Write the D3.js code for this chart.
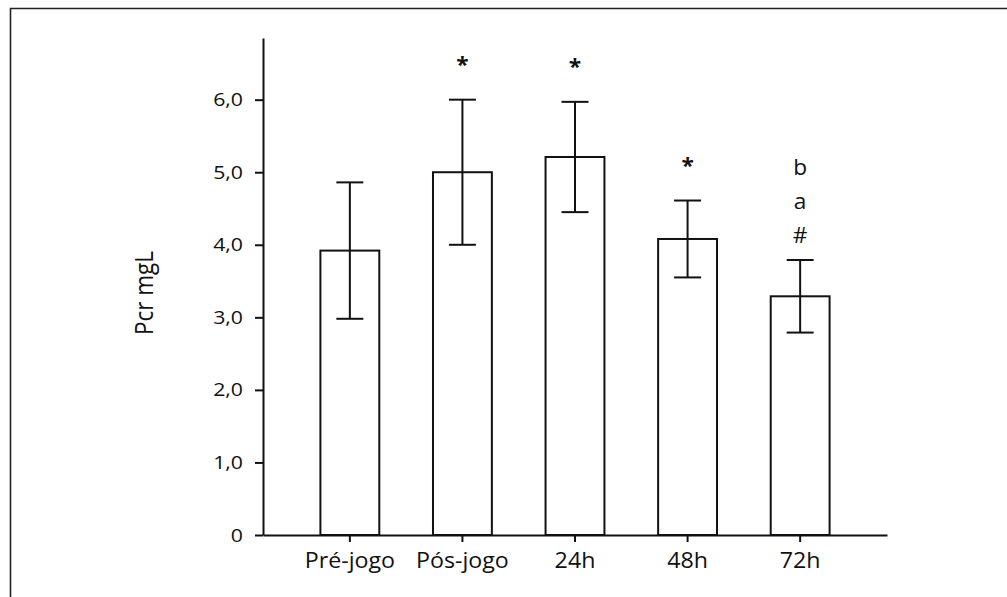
<!DOCTYPE html>
<html><head><meta charset="utf-8">
<script src="https://cdn.jsdelivr.net/npm/d3@7"></script>
<style>body{margin:0;background:#fff} svg{display:block}</style>
</head><body><svg id="c" width="1007" height="597"></svg>
<script>
// ---- data ----
const categories = ["Pré-jogo", "Pós-jogo", "24h", "48h", "72h"];
const means = [3.92, 5.00, 5.21, 4.08, 3.29];
const sds = [0.94, 1.00, 0.76, 0.53, 0.50];
const marks = [[], ["*"], ["*"], ["*"], ["#", "a", "b"]];
const yTicks = [0, 1, 2, 3, 4, 5, 6];
const yTickLabels = ["0", "1,0", "2,0", "3,0", "4,0", "5,0", "6,0"];
const yTitle = "Pcr mgL";
const yMax = 6.85;

// ---- layout ----
const W = 1007, H = 597;
const x0 = 263, x1 = 887, yB = 535, yT = 38;
const FONT = "'Open Sans', 'Liberation Sans', sans-serif";
const INK = "#111";

const svg = d3.select("#c");
svg.append("rect").attr("width", W).attr("height", H).attr("fill", "#fff");

// frame (left + top edges)
svg.append("path").attr("d", `M10.5,${H} V8.5 H${W}`)
  .attr("fill", "none").attr("stroke", "#222").attr("stroke-width", 1.6);

const x = d3.scaleBand().domain(categories).range([x0, x1])
  .paddingInner(0.477).paddingOuter(0.51);
const y = d3.scaleLinear().domain([0, yMax]).range([yB, yT]);

// bars
svg.append("g").selectAll("rect").data(categories).join("rect")
  .attr("x", d => x(d))
  .attr("y", (d, i) => y(means[i]))
  .attr("width", x.bandwidth())
  .attr("height", (d, i) => y(0) - y(means[i]))
  .attr("fill", "#fff").attr("stroke", INK).attr("stroke-width", 2);

// error bars
const capW = 27;
const eg = svg.append("g").attr("stroke", INK).attr("stroke-width", 2).attr("fill", "none");
categories.forEach((c, i) => {
  const cx = x(c) + x.bandwidth() / 2;
  const hi = y(means[i] + sds[i]), lo = y(means[i] - sds[i]);
  eg.append("line").attr("x1", cx).attr("x2", cx).attr("y1", hi).attr("y2", lo);
  eg.append("line").attr("x1", cx - capW / 2).attr("x2", cx + capW / 2).attr("y1", hi).attr("y2", hi);
  eg.append("line").attr("x1", cx - capW / 2).attr("x2", cx + capW / 2).attr("y1", lo).attr("y2", lo);
});

// significance marks
const ag = svg.append("g").attr("font-family", FONT).attr("fill", INK).attr("text-anchor", "middle");
categories.forEach((c, i) => {
  const cx = x(c) + x.bandwidth() / 2;
  const top = y(means[i] + sds[i]);
  marks[i].forEach((m, k) => {
    const base = m === "*" ? top - 28 : top - 17 - 34 * k;
    ag.append("text").attr("x", cx).attr("y", base)
      .attr("font-size", 21).attr("font-weight", m === "*" ? 700 : 400)
      .attr("transform", `translate(${cx},0) scale(1.08,1) translate(${-cx},0)`)
      .text(m);
  });
});

// y axis
const yAxis = d3.axisLeft(y).tickValues(yTicks)
  .tickFormat((d, i) => yTickLabels[i]).tickSize(8).tickSizeOuter(0).tickPadding(12);
const gy = svg.append("g").attr("transform", `translate(${x0},0)`).call(yAxis);
gy.select(".domain").attr("stroke", INK).attr("stroke-width", 2);
gy.selectAll(".tick line").attr("stroke", INK).attr("stroke-width", 2);
gy.selectAll(".tick text")
  .attr("x", 0).attr("transform", "translate(-20,0) scale(1.12,1)")
  .attr("font-family", FONT).attr("font-size", 19).attr("fill", INK);

// x axis
const xAxis = d3.axisBottom(x).tickSize(7).tickSizeOuter(0);
const gx = svg.append("g").attr("transform", `translate(0,${yB})`).call(xAxis);
gx.select(".domain").attr("stroke", INK).attr("stroke-width", 2);
gx.selectAll(".tick line").attr("stroke", INK).attr("stroke-width", 2);
gx.selectAll(".tick text")
  .attr("y", 33).attr("dy", "0").attr("transform", "scale(1.08,1)")
  .attr("font-family", FONT).attr("font-size", 21.5).attr("fill", INK);

// y title
svg.append("text")
  .attr("transform", "translate(153,293) scale(1.15,1) rotate(-90)")
  .attr("text-anchor", "middle")
  .attr("font-family", FONT).attr("font-size", 22.5).attr("fill", INK)
  .text(yTitle);
</script></body></html>
